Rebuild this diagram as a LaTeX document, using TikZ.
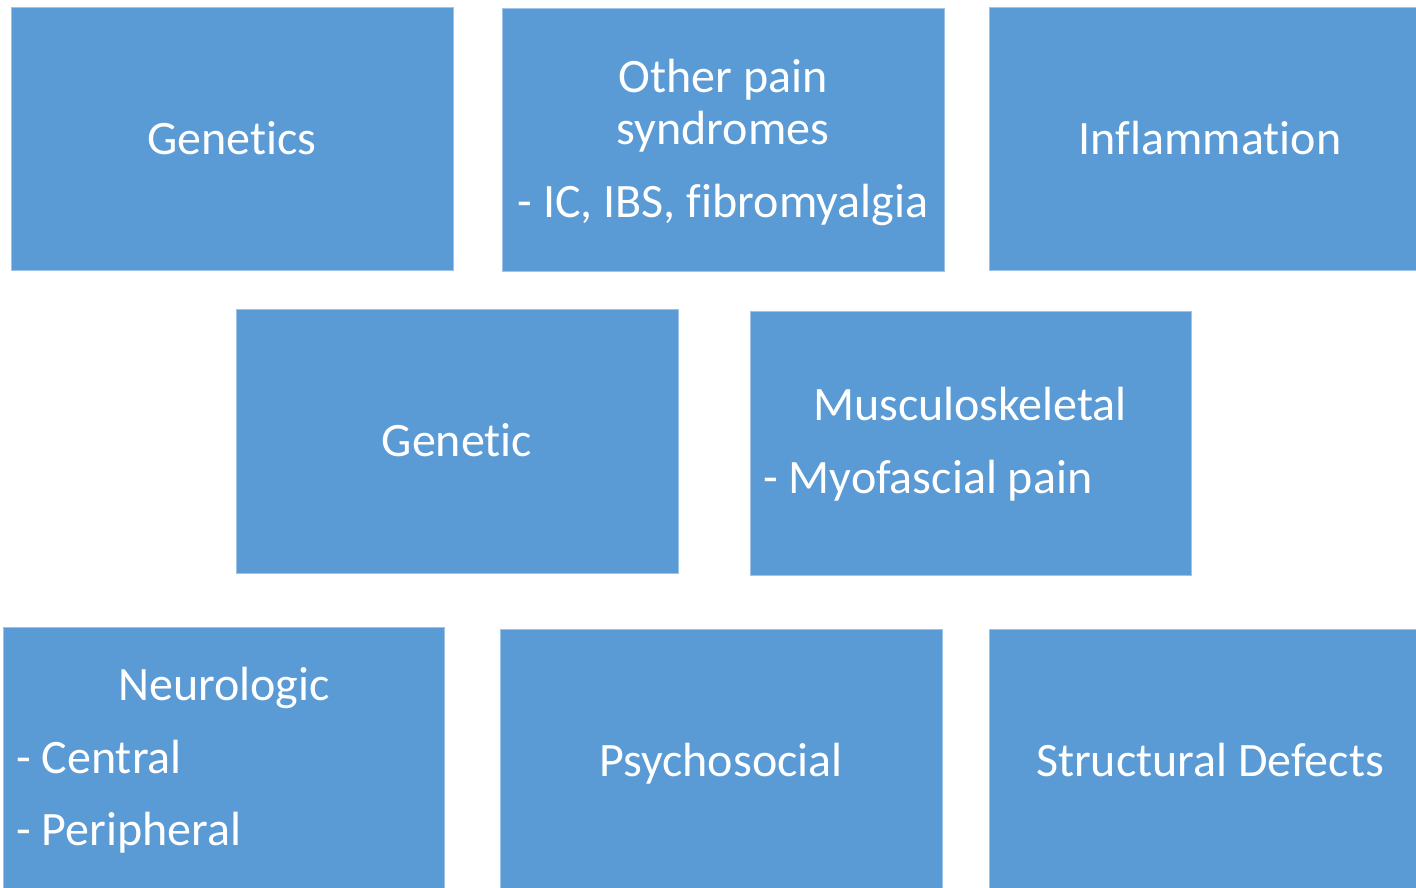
\documentclass[tikz,border=0pt]{standalone}
\usepackage{fontspec}
\setmainfont{Carlito}[Ligatures=NoCommon]
\definecolor{boxblue}{HTML}{5B9BD5}
\tikzset{
  blk/.style={fill=boxblue, draw=boxblue!60!white, line width=0.6pt},
  lbl/.style={text=white, font=\fontsize{48}{52}\selectfont, inner sep=0pt},
}
\begin{document}
\begin{tikzpicture}[x=1pt,y=-1pt]
\clip (0,0) rectangle (1416,887);
\fill[white] (0,0) rectangle (1416,887);
% boxes
\path[blk] (11,7) rectangle (453,270) coordinate (g1);
\path[blk] (502,8) rectangle (944,271) coordinate (op);
\path[blk] (989,7) rectangle (1431,270) coordinate (inf);
\path[blk] (236,309) rectangle (678,573) coordinate (gen);
\path[blk] (750,311) rectangle (1191,575) coordinate (mus);
\path[blk] (3,627) rectangle (444,892) coordinate (neu);
\path[blk] (500,629) rectangle (942,892) coordinate (psy);
\path[blk] (989,629) rectangle (1431,892) coordinate (str);
% texts
\node[lbl, anchor=base] (t1) at (232,154) {Genetics};
\node[lbl, anchor=base] (t2a) at (723,92) {Other pain};
\node[lbl, anchor=base] (t2b) at (723,144) {syndromes};
\node[lbl, anchor=base] (t2c) at (723,217) {- IC, IBS, fibromyalgia};
\node[lbl, anchor=base] (t3) at (1210,154) {Inflammation};
\node[lbl, anchor=base] (t4) at (457,456) {Genetic};
\node[lbl, anchor=base] (t5a) at (970,420) {Musculoskeletal};
\node[lbl, anchor=base west] (t5b) at (763,493) {- Myofascial pain};
\node[lbl, anchor=base] (t6a) at (224,700) {Neurologic};
\node[lbl, anchor=base west] (t6b) at (16,773) {- Central};
\node[lbl, anchor=base west] (t6c) at (16,845) {- Peripheral};
\node[lbl, anchor=base] (t7) at (721,776) {Psychosocial};
\node[lbl, anchor=base] (t8) at (1210,776) {Structural Defects};
\end{tikzpicture}
\end{document}
